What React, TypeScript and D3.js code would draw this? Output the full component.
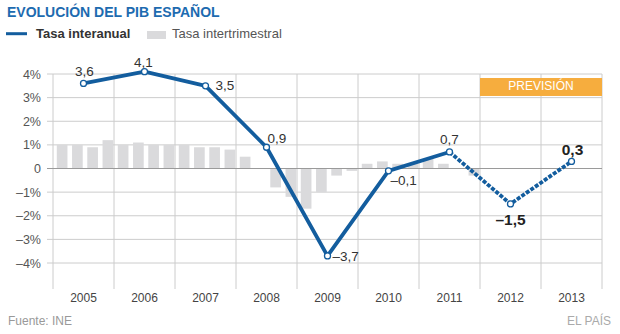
import React from "react";
import * as d3 from "d3";

// ---------- data ----------
const years = ["2005", "2006", "2007", "2008", "2009", "2010", "2011", "2012", "2013"];
const annualRate = [3.6, 4.1, 3.5, 0.9, -3.7, -0.1, 0.7, -1.5, 0.3];
const forecastStartYear = "2011"; // dashed from here on
const forecastYears = ["2012", "2013"];
const boldLabelYears = ["2012", "2013"];
const quarterlyRate = [
  1.0, 1.0, 0.9, 1.2, // 2005
  1.0, 1.1, 1.0, 1.0, // 2006
  1.0, 0.9, 0.9, 0.8, // 2007
  0.5, 0.0, -0.8, -1.2, // 2008
  -1.7, -1.0, -0.3, -0.1, // 2009
  0.2, 0.3, 0.2, 0.2, // 2010
  0.4, 0.2, 0.0, -0.3, // 2011
];
const yTicks = [-4, -3, -2, -1, 0, 1, 2, 3, 4];

const title = "EVOLUCIÓN DEL PIB ESPAÑOL";
const legendLine = "Tasa interanual";
const legendBar = "Tasa intertrimestral";
const forecastLabel = "PREVISIÓN";
const source = "Fuente: INE";
const brand = "EL PAÍS";

// ---------- layout / style ----------
const W = 620;
const H = 334;
const plot = { left: 53, right: 602, top: 74, bottom: 289 };
const FONT = "'Liberation Sans', Arial, Helvetica, sans-serif";
const BLUE = "#135d9e";
const TITLE_BLUE = "#1d6bb0";
const BAR = "#dadadc";
const GRID = "#cccccc";
const ORANGE = "#f6ad3e";

// label placement per year (dx, dy relative to point, anchor)
const labelPlacement: [number, number, string][] = [
  [1, -7, "middle"],
  [-1, -5, "middle"],
  [10, 4, "start"],
  [1, -4, "start"],
  [5, 5, "start"],
  [2, 14, "start"],
  [0, -7.5, "middle"],
  [0, 21, "middle"],
  [1, -6, "middle"],
];

const locale = d3.formatLocale({
  decimal: ",",
  thousands: ".",
  grouping: [3],
  currency: ["", "€"],
  minus: "–",
});
const fmt = locale.format(".1f");
const fmtTick = (v: number) => (v === 0 ? "0" : locale.format("d")(v) + "%");

export default function App() {
  const x = d3.scaleBand<string>().domain(years).range([plot.left, plot.right]).padding(0);
  const y = d3.scaleLinear().domain([-5.1, 4]).range([plot.bottom, plot.top]);

  const qIdx = d3.range(years.length * 4);
  const xq = d3
    .scaleBand<number>()
    .domain(qIdx)
    .range([plot.left + 1.5, plot.right + 1.5])
    .paddingInner(0.3)
    .paddingOuter(0.15);

  const pts = years.map((yr, i) => ({
    year: yr,
    v: annualRate[i],
    x: (x(yr) as number) + x.bandwidth() / 2,
    y: y(annualRate[i]),
  }));
  const fIdx = years.indexOf(forecastStartYear);
  const line = d3
    .line<{ x: number; y: number }>()
    .x((d) => d.x)
    .y((d) => d.y);
  const solidPath = line(pts.slice(0, fIdx + 1)) as string;
  const dashedPath = line(pts.slice(fIdx)) as string;

  const vLines = [...years.map((yr) => x(yr) as number), plot.right];

  const fx0 = x(forecastYears[0]) as number;
  const fx1 = (x(forecastYears[forecastYears.length - 1]) as number) + x.bandwidth();

  return (
    <svg width={W} height={H} style={{ display: "block", position: "absolute", left: 0, top: 0 }} fontFamily={FONT}>
      <rect width={W} height={H} fill="#fff" />
      {/* title */}
      <text x={7} y={17} fontSize={14} fontWeight="bold" fill={TITLE_BLUE}>
        {title}
      </text>
      {/* legend */}
      <line x1={6} x2={27} y1={33.7} y2={33.7} stroke={BLUE} strokeWidth={3} />
      <text x={36} y={38} fontSize={13} fontWeight="bold" fill="#333">
        {legendLine}
      </text>
      <rect x={147} y={31} width={19} height={8} fill={BAR} />
      <text x={172} y={38} fontSize={13} fill="#555">
        {legendBar}
      </text>

      {/* gridlines */}
      {yTicks
        .filter((t) => t !== 0)
        .map((t) => (
          <line key={"h" + t} x1={47} x2={plot.right} y1={y(t)} y2={y(t)} stroke={GRID} strokeWidth={1} />
        ))}
      {vLines.map((vx, i) => (
        <line key={"v" + i} x1={vx} x2={vx} y1={plot.top} y2={plot.bottom} stroke={GRID} strokeWidth={1} />
      ))}

      {/* forecast box */}
      <rect x={fx0} y={y(3.83)} width={fx1 - fx0} height={y(3.07) - y(3.83)} fill={ORANGE} />
      <text x={(fx0 + fx1) / 2} y={y(3.33)} fontSize={12} fill="#fff" textAnchor="middle">
        {forecastLabel}
      </text>

      {/* y tick labels */}
      {yTicks.map((t) => (
        <text key={"yl" + t} x={41} y={y(t) + 4.5} fontSize={12.5} fill="#555" textAnchor="end">
          {fmtTick(t)}
        </text>
      ))}
      {/* x labels */}
      {years.map((yr) => (
        <text
          key={"xl" + yr}
          x={(x(yr) as number) + x.bandwidth() / 2}
          y={301.5}
          fontSize={12}
          fill="#444"
          textAnchor="middle"
        >
          {yr}
        </text>
      ))}

      {/* quarterly bars */}
      {quarterlyRate.map((v, i) => (
        <rect
          key={"b" + i}
          x={xq(i) as number}
          width={xq.bandwidth()}
          y={Math.min(y(v), y(0))}
          height={Math.abs(y(v) - y(0))}
          fill={BAR}
        />
      ))}

      {/* zero line */}
      <line x1={47} x2={plot.right} y1={y(0)} y2={y(0)} stroke="#9a9a9a" strokeWidth={1} />

      {/* annual line */}
      <path d={solidPath} fill="none" stroke={BLUE} strokeWidth={3.8} strokeLinejoin="round" />
      <path d={dashedPath} fill="none" stroke={BLUE} strokeWidth={3.8} strokeDasharray="4 1.5" />
      {pts.map((p) => (
        <circle key={"c" + p.year} cx={p.x} cy={p.y} r={3} fill="#fff" stroke={BLUE} strokeWidth={1.3} />
      ))}

      {/* value labels */}
      {pts.map((p, i) => {
        const [dx, dy, anchor] = labelPlacement[i];
        const bold = boldLabelYears.includes(p.year);
        return (
          <text
            key={"vl" + p.year}
            x={p.x + dx}
            y={p.y + dy}
            fontSize={bold ? 15.5 : 13.5}
            fontWeight={bold ? "bold" : "normal"}
            fill={bold ? "#222" : "#333"}
            textAnchor={anchor}
          >
            {fmt(p.v)}
          </text>
        );
      })}

      {/* footer */}
      <text x={8} y={325} fontSize={12} fill="#999">
        {source}
      </text>
      <text x={611} y={325} fontSize={12} fill="#aaa" textAnchor="end">
        {brand}
      </text>
    </svg>
  );
}
